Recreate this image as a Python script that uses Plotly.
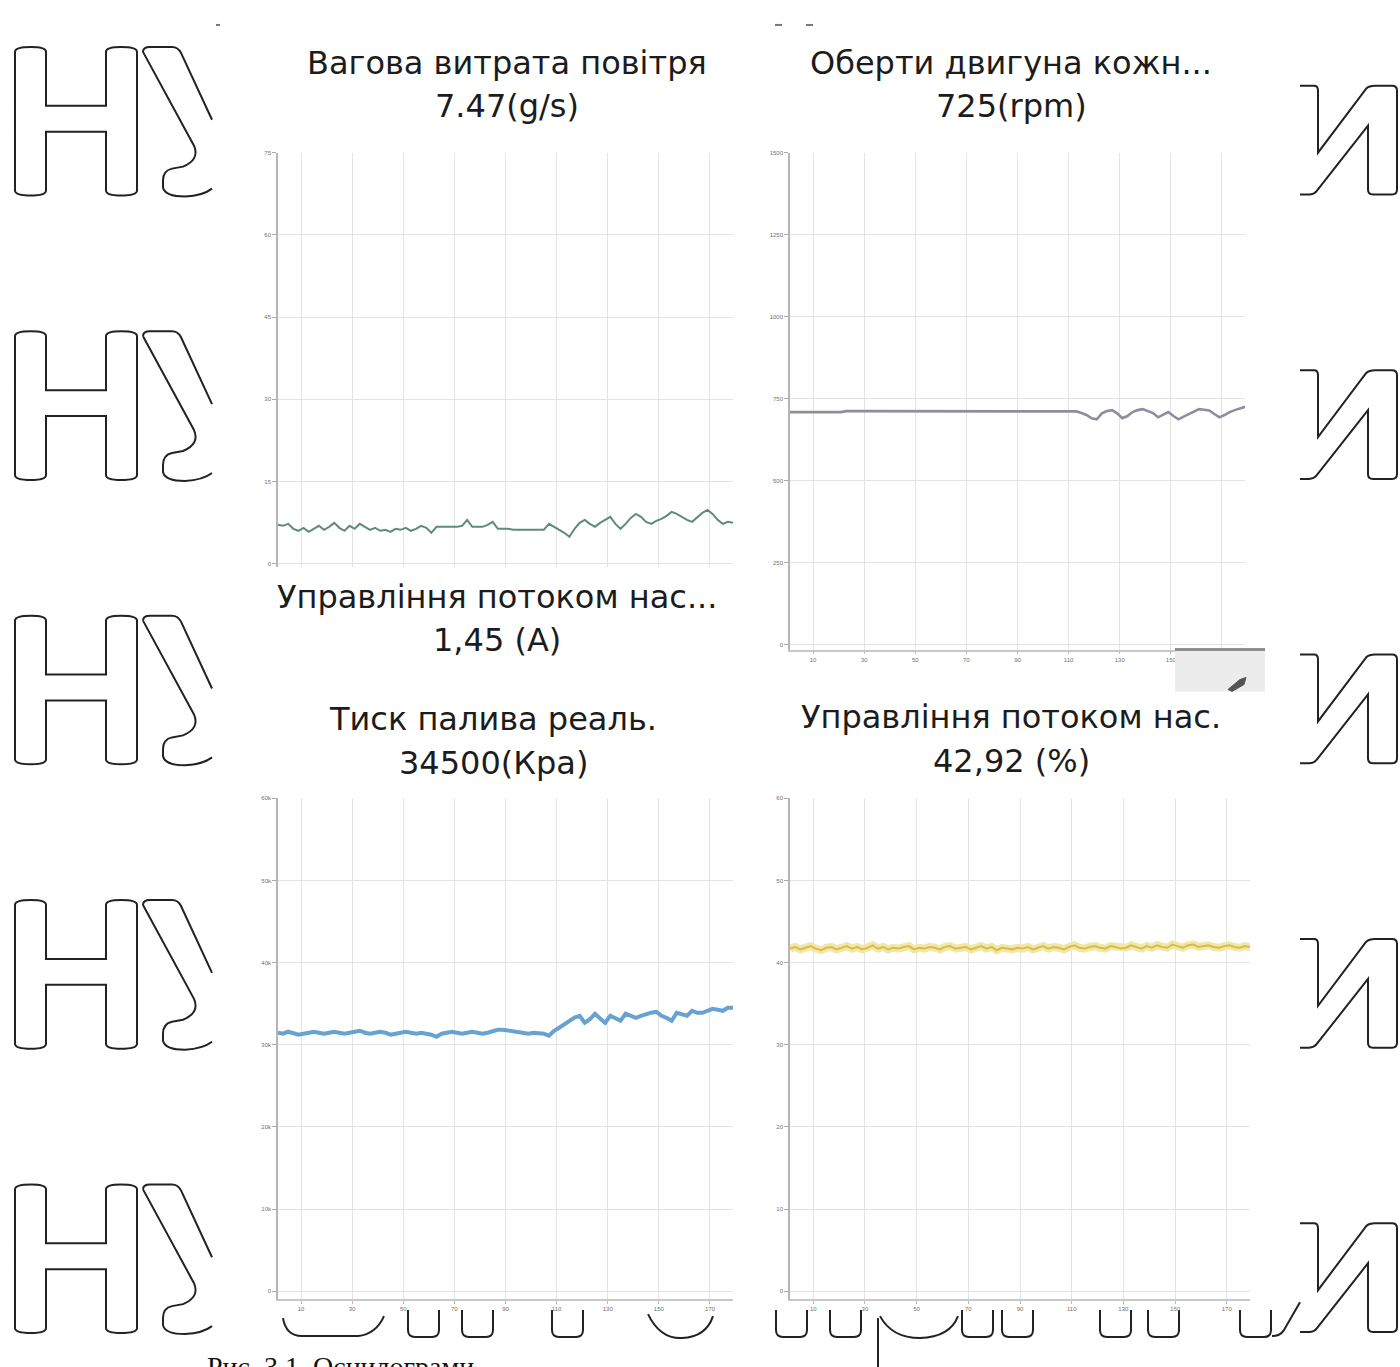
import plotly.graph_objects as go

W, H = 1400, 1367

# ---------------- data ----------------
x_tick_vals = [10, 30, 50, 70, 90, 110, 130, 150, 170]
x_tick_text = ["10", "30", "50", "70", "90", "110", "130", "150", "170"]

air_ticks = [0, 15, 30, 45, 60, 75]
rpm_ticks = [0, 250, 500, 750, 1000, 1250, 1500]
fuel_ticks = [0, 10000, 20000, 30000, 40000, 50000, 60000]
pct_ticks = [0, 10, 20, 30, 40, 50, 60]

air_flow = [7.10, 6.92, 7.28, 6.37, 6.01, 6.55, 5.82, 6.37, 6.92, 6.19, 6.73, 7.46, 6.55, 6.01, 6.92,
            6.37, 7.28, 6.73, 6.19, 6.55, 6.01, 6.19, 5.82, 6.37, 6.19, 6.55, 6.01, 6.37, 6.92, 6.55,
            5.64, 6.73, 6.73, 6.73, 6.73, 6.73, 6.92, 8.01, 6.73, 6.73, 6.73, 7.10, 7.64, 6.37, 6.37,
            6.37, 6.19, 6.19, 6.19, 6.19, 6.19, 6.19, 6.19, 7.28, 6.73, 6.19, 5.64, 4.91, 6.37, 7.46,
            8.01, 7.28, 6.73, 7.46, 8.01, 8.55, 7.28, 6.37, 7.28, 8.37, 9.10, 8.55, 7.64, 7.28, 7.83,
            8.19, 8.74, 9.46, 9.10, 8.55, 8.01, 7.64, 8.55, 9.28, 9.83, 9.10, 8.01, 7.28, 7.64, 7.47]

engine_rpm = [709, 709, 709, 709, 709, 709, 709, 709, 709, 709, 709, 712, 712, 712, 712,
              712, 712, 712, 712, 712, 712, 712, 712, 712, 712, 712, 712, 712, 712, 712,
              712, 712, 712, 712, 712, 712, 712, 712, 712, 712, 712, 712, 712, 712, 712,
              712, 712, 712, 712, 712, 712, 712, 712, 712, 712, 711, 711, 706, 700, 690,
              687, 705, 712, 715, 705, 690, 697, 709, 715, 718, 712, 706, 693, 700, 709,
              697, 687, 695, 703, 712, 718, 716, 714, 703, 693, 700, 709, 715, 720, 725]

fuel_pressure = [31460, 31340, 31580, 31450, 31220, 31340, 31450, 31580, 31460, 31340, 31460, 31580,
                 31460, 31340, 31460, 31580, 31700, 31460, 31340, 31460, 31580, 31460, 31220, 31340,
                 31460, 31580, 31460, 31340, 31460, 31340, 31220, 30970, 31340, 31460, 31580, 31460,
                 31340, 31460, 31580, 31460, 31340, 31460, 31700, 31820, 31820, 31700, 31580, 31460,
                 31340, 31340, 31460, 31460, 31340, 31090, 31700, 32070, 32500, 32920, 33300, 33520,
                 32670, 33100, 33770, 33200, 32670, 33520, 33200, 32920, 33770, 33500, 33280, 33520,
                 33770, 33900, 34010, 33520, 33280, 32920, 33890, 33640, 33520, 34130, 33890, 33890,
                 34130, 34370, 34250, 34130, 34500, 34500]

valve_pct = [41.7, 41.9, 41.6, 41.8, 42.0, 41.7, 41.5, 41.8, 41.9, 41.6, 41.8, 42.0, 41.7, 41.9, 41.6,
             41.8, 42.1, 41.7, 41.9, 41.6, 41.8, 41.7, 41.9, 42.0, 41.6, 41.8, 41.7, 41.9, 41.8, 41.6,
             41.9, 42.0, 41.7, 41.8, 41.9, 41.6, 41.8, 42.0, 41.7, 41.9, 41.5, 41.8, 41.7, 41.6, 41.8,
             41.7, 41.9, 41.6, 41.8, 42.0, 41.7, 41.9, 41.8, 41.6, 41.9, 42.1, 41.8, 41.7, 41.9, 42.0,
             41.8, 41.7, 42.0, 41.9, 41.7, 41.8, 42.1, 41.9, 41.7, 42.0, 41.8, 42.1, 41.9, 41.8, 42.2,
             42.0, 41.8, 42.1, 42.2, 41.9, 42.0, 42.1, 41.9, 41.8, 42.0, 42.1, 41.9, 41.8, 42.0, 41.9]

titles = [
    ("Вагова витрата повітря", "7.47(g/s)", 507, 60, 103),
    ("Оберти двигуна кожн...", "725(rpm)", 1011, 60, 103),
    ("Управління потоком нас...", "1,45 (A)", 497, 595, 638),
    ("Тиск палива реаль.", "34500(Кра)", 493, 718, 762),
    ("Управління потоком нас.", "42,92 (%)", 1011, 716, 760),
]

caption = "Рис. 3.1. Осцилограми"


def sample_times(values):
    return [1 + 2 * i for i in range(len(values))]


def fx(px):
    return px / W


def fy(px):
    return 1 - px / H


def P(x, y):
    return f"{fx(x):.5f},{fy(y):.5f}"


fig = go.Figure()

fig.add_trace(go.Scatter(x=sample_times(air_flow), y=air_flow, mode="lines",
                         line=dict(color="#5e8b7f", width=2), xaxis="x", yaxis="y",
                         showlegend=False, hoverinfo="skip"))
fig.add_trace(go.Scatter(x=sample_times(engine_rpm), y=engine_rpm, mode="lines",
                         line=dict(color="#8d8d9e", width=2.6), xaxis="x2", yaxis="y2",
                         showlegend=False, hoverinfo="skip"))
fig.add_trace(go.Scatter(x=sample_times(fuel_pressure), y=fuel_pressure, mode="lines",
                         line=dict(color="#68a2d0", width=4), xaxis="x3", yaxis="y3",
                         showlegend=False, hoverinfo="skip"))
fig.add_trace(go.Scatter(x=sample_times(valve_pct), y=valve_pct, mode="lines",
                         line=dict(color="#f2e7a8", width=8), xaxis="x4", yaxis="y4",
                         showlegend=False, hoverinfo="skip"))
fig.add_trace(go.Scatter(x=sample_times(valve_pct), y=valve_pct, mode="lines",
                         line=dict(color="#d4bd48", width=2), xaxis="x4", yaxis="y4",
                         showlegend=False, hoverinfo="skip"))

grid = "#e3e3e3"
tickfont = dict(family="Liberation Sans", size=6, color="#707070")


def xax(d0, d1, anchor, show_labels, show_line):
    return dict(domain=[fx(d0), fx(d1)], anchor=anchor, range=[1, 179],
                tickvals=x_tick_vals, ticktext=x_tick_text, showticklabels=show_labels,
                showgrid=True, gridcolor=grid, gridwidth=1, zeroline=False,
                showline=show_line, linecolor="#c8c8c8", linewidth=1.5,
                ticks="outside" if show_labels else "", ticklen=3, tickcolor="#bbb",
                tickfont=tickfont, fixedrange=True)


def yax(top, bottom, anchor, rng, tv):
    return dict(domain=[fy(bottom), fy(top)], anchor=anchor, range=rng, tickvals=tv,
                showgrid=True, gridcolor=grid, gridwidth=1, zeroline=False,
                showline=True, linecolor="#b5b5b5", linewidth=1.5,
                ticks="outside", ticklen=4, tickcolor="#aaa", tickfont=tickfont,
                fixedrange=True)


annotations = []
for t1, t2, cx, y1, y2 in titles:
    for txt, yy in ((t1, y1), (t2, y2)):
        annotations.append(dict(text=txt, x=fx(cx), y=fy(yy), xref="paper", yref="paper",
                                xanchor="center", yanchor="middle", showarrow=False,
                                font=dict(family="DejaVu Sans", size=32, color="#1c1c1c")))

# caption, cut by the page bottom as in the scan
annotations.append(dict(text=caption, x=fx(205), y=fy(1349),
                        xref="paper", yref="paper", xanchor="left", yanchor="top",
                        showarrow=False,
                        font=dict(family="Liberation Serif", size=28, color="#111")))

shapes = []
wm = dict(color="#222", width=2)

# watermark "НУ" on the left, "И" on the right
for k in range(5):
    d = 285 * k
    h_path = ("M " + P(15, 49 + d) + " Q " + P(15, 44 + d) + " " + P(31, 44 + d) +
              " Q " + P(46, 44 + d) + " " + P(46, 49 + d) +
              " L " + P(46, 103 + d) + " L " + P(106, 103 + d) + " L " + P(106, 49 + d) +
              " Q " + P(106, 44 + d) + " " + P(121, 44 + d) + " Q " + P(137, 44 + d) + " " + P(137, 49 + d) +
              " L " + P(137, 188 + d) + " Q " + P(137, 193 + d) + " " + P(121, 193 + d) +
              " Q " + P(106, 193 + d) + " " + P(106, 188 + d) +
              " L " + P(106, 129 + d) + " L " + P(46, 129 + d) + " L " + P(46, 188 + d) +
              " Q " + P(46, 193 + d) + " " + P(31, 193 + d) + " Q " + P(15, 193 + d) + " " + P(15, 188 + d) + " Z")
    shapes.append(dict(type="path", path=h_path, xref="paper", yref="paper", line=wm, layer="below"))
    u_outer = ("M " + P(143, 49 + d) + " Q " + P(143, 44 + d) + " " + P(150, 44 + d) +
               " L " + P(172, 44 + d) + " Q " + P(178, 44 + d) + " " + P(181, 50 + d) +
               " L " + P(212, 117 + d))
    shapes.append(dict(type="path", path=u_outer, xref="paper", yref="paper", line=wm, layer="below"))
    u_inner = ("M " + P(143, 49 + d) + " L " + P(194, 143 + d) + " Q " + P(200, 157 + d) + " " + P(183, 164 + d) +
               " L " + P(172, 166 + d) + " Q " + P(163, 168 + d) + " " + P(163, 178 + d) +
               " L " + P(163, 185 + d) + " Q " + P(165, 194 + d) + " " + P(185, 194 + d) +
               " Q " + P(203, 193 + d) + " " + P(212, 186 + d))
    shapes.append(dict(type="path", path=u_inner, xref="paper", yref="paper", line=wm, layer="below"))
    i_path = ("M " + P(1300, 83 + d) + " L " + P(1314, 83 + d) + " Q " + P(1318, 83 + d) + " " + P(1318, 88 + d) +
              " L " + P(1318, 150 + d) + " L " + P(1366, 86 + d) + " Q " + P(1369, 83 + d) + " " + P(1375, 83 + d) +
              " L " + P(1392, 83 + d) + " Q " + P(1397, 83 + d) + " " + P(1397, 88 + d) +
              " L " + P(1397, 187 + d) + " Q " + P(1397, 192 + d) + " " + P(1392, 192 + d) +
              " L " + P(1373, 192 + d) + " Q " + P(1368, 192 + d) + " " + P(1368, 187 + d) +
              " L " + P(1368, 123 + d) + " L " + P(1317, 188 + d) + " Q " + P(1314, 192 + d) + " " + P(1309, 192 + d) +
              " L " + P(1300, 192 + d))
    shapes.append(dict(type="path", path=i_path, xref="paper", yref="paper", line=wm, layer="below"))

# bottom row of watermark letter bottoms
u_lefts = [408, 462, 552, 776, 830, 962, 1002, 1100, 1148, 1240]
for ul in u_lefts:
    p = ("M " + P(ul, 1310) + " L " + P(ul, 1330) + " Q " + P(ul, 1337) + " " + P(ul + 7, 1337) +
         " L " + P(ul + 24, 1337) + " Q " + P(ul + 31, 1337) + " " + P(ul + 31, 1330) + " L " + P(ul + 31, 1310))
    shapes.append(dict(type="path", path=p, xref="paper", yref="paper", line=wm, layer="below"))
curves = [
    "M " + P(283, 1318) + " Q " + P(286, 1336) + " " + P(302, 1336) + " L " + P(358, 1336) +
    " Q " + P(376, 1334) + " " + P(384, 1316),
    "M " + P(648, 1314) + " Q " + P(660, 1339) + " " + P(682, 1338) + " Q " + P(706, 1337) + " " + P(713, 1316),
    "M " + P(880, 1316) + " Q " + P(892, 1338) + " " + P(920, 1338) + " Q " + P(950, 1337) + " " + P(958, 1316),
    "M " + P(878, 1318) + " L " + P(878, 1367),
    "M " + P(1272, 1336) + " Q " + P(1280, 1336) + " " + P(1284, 1330) + " L " + P(1300, 1302),
]
for p in curves:
    shapes.append(dict(type="path", path=p, xref="paper", yref="paper", line=wm, layer="below"))

# small marks at the top
for (a, b) in [(216, 220), (775, 782), (806, 813)]:
    shapes.append(dict(type="line", x0=fx(a), x1=fx(b), y0=fy(22), y1=fy(22), xref="paper", yref="paper",
                       line=dict(color="#777", width=2)))

# grey widget box at the corner of the rpm chart
shapes.append(dict(type="rect", x0=fx(1175), x1=fx(1265), y0=fy(690), y1=fy(648), xref="paper", yref="paper",
                   fillcolor="#ececec", line=dict(width=0), layer="above"))
shapes.append(dict(type="line", x0=fx(1175), x1=fx(1265), y0=fy(648), y1=fy(648), xref="paper", yref="paper",
                   line=dict(color="#8f8f8f", width=3), layer="above"))
shapes.append(dict(type="path", path="M " + P(1228, 688) + " L " + P(1240, 678) + " L " + P(1246, 676) +
                   " L " + P(1244, 683) + " L " + P(1232, 690) + " Z", xref="paper", yref="paper",
                   fillcolor="#555", line=dict(color="#555", width=1), layer="above"))

fig.update_layout(
    width=W, height=H, margin=dict(l=0, r=0, t=0, b=0),
    paper_bgcolor="white", plot_bgcolor="white", showlegend=False,
    xaxis=xax(278, 733, "y", False, False),
    yaxis=yax(150, 565, "x", [-0.55, 75], air_ticks),
    xaxis2=xax(790, 1245, "y2", True, True),
    yaxis2=yax(150, 648, "x2", [-15.2, 1500], rpm_ticks),
    xaxis3=xax(278, 733, "y3", True, True),
    yaxis3=yax(797, 1299, "x3", [-972, 60000], fuel_ticks),
    xaxis4=xax(790, 1250, "y4", True, True),
    yaxis4=yax(797, 1299, "x4", [-0.97, 60], pct_ticks),
    annotations=annotations, shapes=shapes,
)

fig.write_html("out.html", config={"displayModeBar": False},
               post_script="document.body.style.margin='0px';document.body.style.overflow='hidden';")
